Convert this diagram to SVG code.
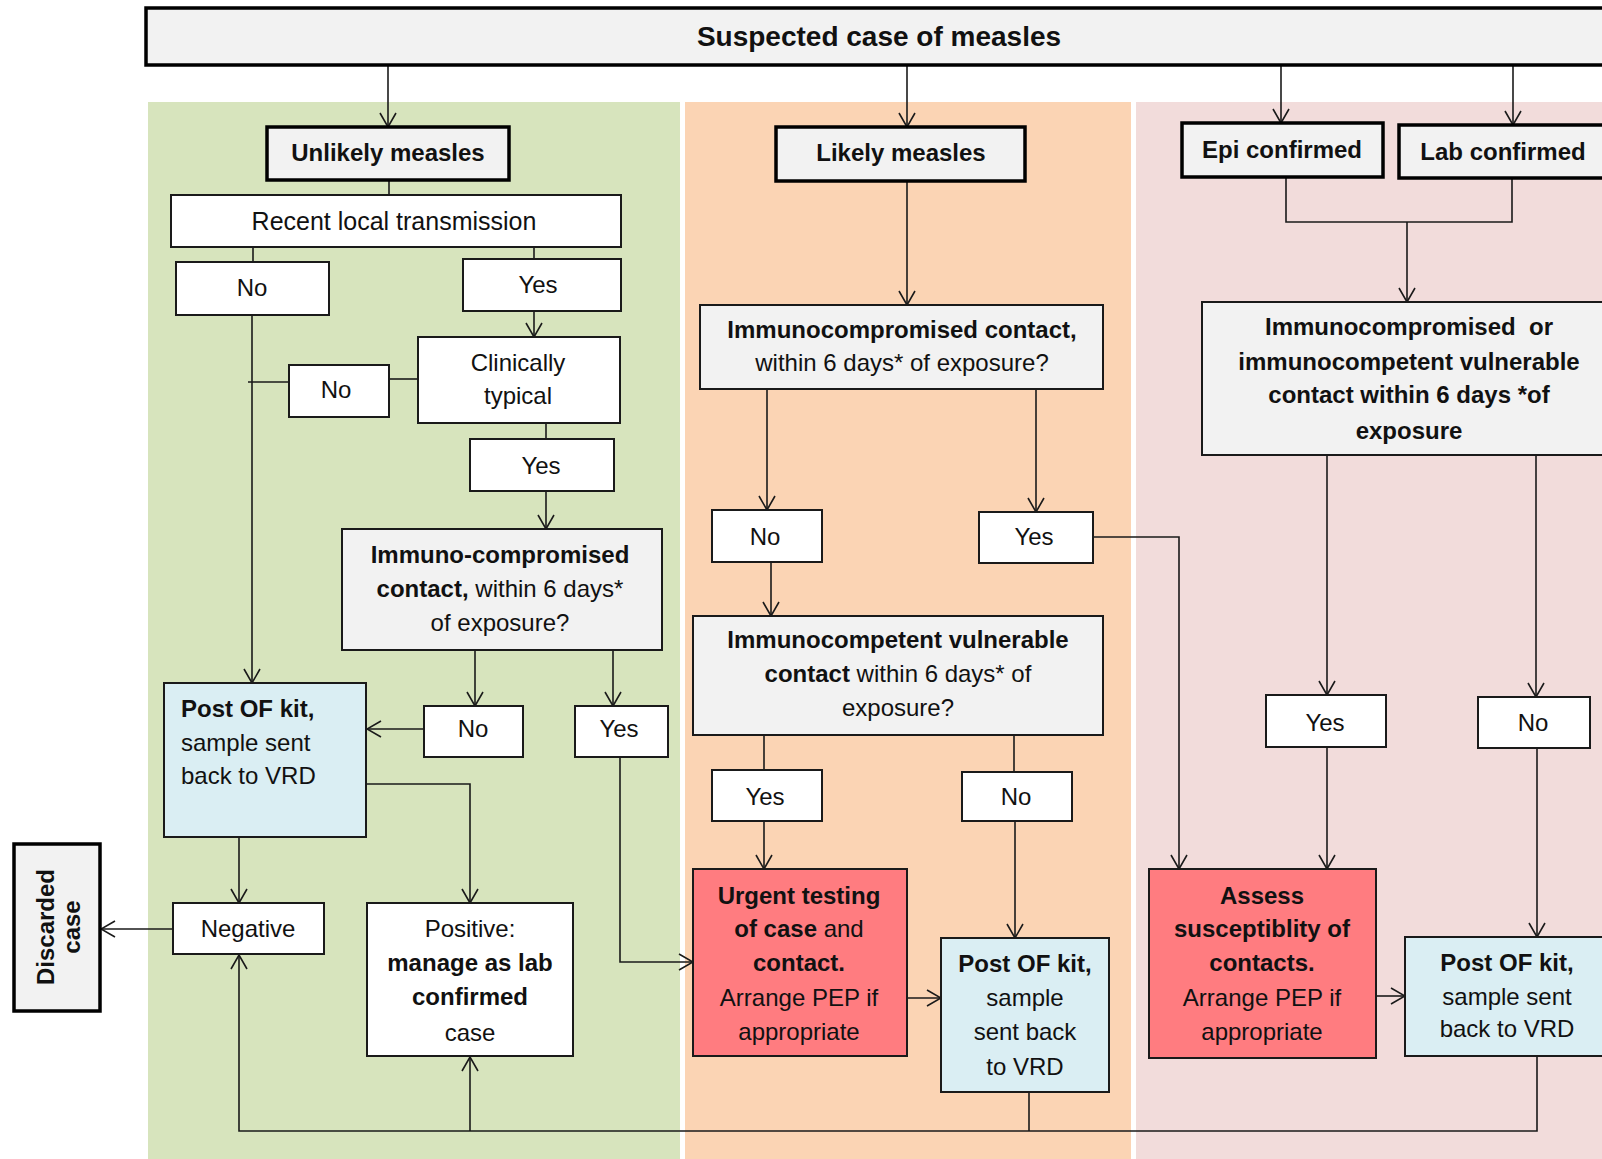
<svg xmlns="http://www.w3.org/2000/svg" width="1602" height="1159" viewBox="0 0 1602 1159">
<defs>
<style>
text{font-family:"Liberation Sans",Arial,sans-serif;fill:#111;text-anchor:middle;}
.t{font-size:24px;}
.b{font-weight:bold;}
.box{stroke:#1a1a1a;stroke-width:2;}
.thick{stroke:#000;stroke-width:3.5;fill:#f2f2f2;}
.white{fill:#fff;}
.grey{fill:#f2f2f2;}
.blue{fill:#daeef3;}
.red{fill:#ff7c80;}
.c{fill:none;stroke:#1a1a1a;stroke-width:1.6;}
.a{marker-end:url(#arr);}
</style>
<marker id="arr" viewBox="0 0 16 18" refX="15" refY="9" markerWidth="16" markerHeight="18" markerUnits="userSpaceOnUse" orient="auto">
<path d="M1,1 L15,9 L1,17" fill="none" stroke="#1a1a1a" stroke-width="1.6"/>
</marker>
</defs>
<rect width="1602" height="1159" fill="#fff"/>
<g id="panels">
<rect x="148" y="102" width="532" height="1057" fill="#d7e4bd"/>
<rect x="685" y="102" width="446" height="1057" fill="#fbd4b4"/>
<rect x="1136" y="102" width="470" height="1057" fill="#f2dcdb"/>
</g>
<g id="connectors">
<path class="c a" d="M388,65 V127"/>
<path class="c a" d="M907,65 V127"/>
<path class="c a" d="M1281,65 V123"/>
<path class="c a" d="M1513,65 V125"/>
<path class="c" d="M389,180 V195"/>
<path class="c" d="M253,247 V262"/>
<path class="c" d="M534,247 V259"/>
<path class="c a" d="M534,311 V337"/>
<path class="c" d="M418,379 H389"/>
<path class="c" d="M289,382 H248"/>
<path class="c a" d="M252,315 V683"/>
<path class="c" d="M546,423 V439"/>
<path class="c a" d="M546,491 V529"/>
<path class="c a" d="M475,650 V706"/>
<path class="c a" d="M613,650 V706"/>
<path class="c a" d="M424,729 H367"/>
<path class="c a" d="M366,784 H470 V903"/>
<path class="c a" d="M239,837 V903"/>
<path class="c a" d="M173,929 H101"/>
<path class="c a" d="M1537,1056 V1131 H239 V955"/>
<path class="c a" d="M470,1131 V1057"/>
<path class="c" d="M1029,1092 V1131"/>
<path class="c a" d="M620,757 V962 H693"/>
<path class="c a" d="M907,181 V305"/>
<path class="c a" d="M767,389 V510"/>
<path class="c a" d="M1036,389 V512"/>
<path class="c a" d="M771,562 V616"/>
<path class="c a" d="M1093,537 H1179 V869"/>
<path class="c" d="M764,735 V770"/>
<path class="c" d="M1014,735 V772"/>
<path class="c a" d="M764,821 V869"/>
<path class="c a" d="M1015,821 V938"/>
<path class="c a" d="M907,998 H941"/>
<path class="c" d="M1286,177 V222 H1512 V178"/>
<path class="c a" d="M1407,222 V302"/>
<path class="c a" d="M1327,455 V695"/>
<path class="c a" d="M1536,455 V697"/>
<path class="c a" d="M1327,747 V869"/>
<path class="c a" d="M1537,748 V937"/>
<path class="c a" d="M1376,996 H1405"/>
</g>
<g id="suspected">
<rect class="thick" x="146" y="8" width="1470" height="57"/>
<text class="b" x="879" y="46" font-size="28">Suspected case of measles</text>
</g>
<g id="unlikely">
<rect class="thick" x="267" y="127" width="242" height="53"/>
<text class="t b" x="388" y="161">Unlikely measles</text>
</g>
<g id="likely">
<rect class="thick" x="776" y="127" width="249" height="54"/>
<text class="t b" x="901" y="161">Likely measles</text>
</g>
<g id="epi">
<rect class="thick" x="1182" y="123" width="201" height="54"/>
<text class="t b" x="1282" y="158">Epi confirmed</text>
</g>
<g id="lab">
<rect class="thick" x="1399" y="125" width="215" height="53"/>
<text class="t b" x="1503" y="160">Lab confirmed</text>
</g>
<g id="recent">
<rect class="box white" x="171" y="195" width="450" height="52"/>
<text x="394" y="230" font-size="25">Recent local transmission</text>
</g>
<g id="no1">
<rect class="box white" x="176" y="262" width="153" height="53"/>
<text class="t" x="252" y="296">No</text>
</g>
<g id="yes1">
<rect class="box white" x="463" y="259" width="158" height="52"/>
<text class="t" x="538" y="293">Yes</text>
</g>
<g id="clinically">
<rect class="box white" x="418" y="337" width="202" height="86"/>
<text class="t" x="518" y="371">Clinically</text>
<text class="t" x="518" y="404">typical</text>
</g>
<g id="no2">
<rect class="box white" x="289" y="365" width="100" height="52"/>
<text class="t" x="336" y="398">No</text>
</g>
<g id="yes2">
<rect class="box white" x="470" y="439" width="144" height="52"/>
<text class="t" x="541" y="474">Yes</text>
</g>
<g id="immuno-green">
<rect class="box grey" x="342" y="529" width="320" height="121"/>
<text class="t b" x="500" y="563">Immuno-compromised</text>
<text class="t" x="500" y="597"><tspan class="b">contact,</tspan> within 6 days*</text>
<text class="t" x="500" y="631">of exposure?</text>
</g>
<g id="no3">
<rect class="box white" x="424" y="706" width="99" height="51"/>
<text class="t" x="473" y="737">No</text>
</g>
<g id="yes3">
<rect class="box white" x="575" y="706" width="93" height="51"/>
<text class="t" x="619" y="737">Yes</text>
</g>
<g id="post-green">
<rect class="box blue" x="164" y="683" width="202" height="154"/>
<text class="t b" x="181" y="717" style="text-anchor:start">Post OF kit,</text>
<text class="t" x="181" y="751" style="text-anchor:start">sample sent</text>
<text class="t" x="181" y="784" style="text-anchor:start">back to VRD</text>
</g>
<g id="negative">
<rect class="box white" x="173" y="903" width="151" height="51"/>
<text class="t" x="248" y="937">Negative</text>
</g>
<g id="positive">
<rect class="box white" x="367" y="903" width="206" height="153"/>
<text class="t" x="470" y="937">Positive:</text>
<text class="t b" x="470" y="971">manage as lab</text>
<text class="t b" x="470" y="1005">confirmed</text>
<text class="t" x="470" y="1041">case</text>
</g>
<g id="discarded">
<rect class="thick" x="14" y="844" width="86" height="167"/>
<text class="t b" transform="translate(54,927) rotate(-90)">Discarded</text>
<text class="t b" transform="translate(80,927) rotate(-90)">case</text>
</g>
<g id="immuno-orange">
<rect class="box grey" x="700" y="305" width="403" height="84"/>
<text class="t b" x="902" y="338">Immunocompromised contact,</text>
<text class="t" x="902" y="371">within 6 days* of exposure?</text>
</g>
<g id="no4">
<rect class="box white" x="712" y="510" width="110" height="52"/>
<text class="t" x="765" y="545">No</text>
</g>
<g id="yes4">
<rect class="box white" x="979" y="512" width="114" height="51"/>
<text class="t" x="1034" y="545">Yes</text>
</g>
<g id="immunocompetent">
<rect class="box grey" x="693" y="616" width="410" height="119"/>
<text class="t b" x="898" y="648">Immunocompetent vulnerable</text>
<text class="t" x="898" y="682"><tspan class="b">contact</tspan> within 6 days* of</text>
<text class="t" x="898" y="716">exposure?</text>
</g>
<g id="yes5">
<rect class="box white" x="712" y="770" width="110" height="51"/>
<text class="t" x="765" y="805">Yes</text>
</g>
<g id="no5">
<rect class="box white" x="962" y="772" width="110" height="49"/>
<text class="t" x="1016" y="805">No</text>
</g>
<g id="urgent">
<rect class="box red" x="693" y="869" width="214" height="187"/>
<text class="t b" x="799" y="904">Urgent testing</text>
<text class="t" x="799" y="937"><tspan class="b">of case</tspan> and</text>
<text class="t b" x="799" y="971">contact.</text>
<text class="t" x="799" y="1006">Arrange PEP if</text>
<text class="t" x="799" y="1040">appropriate</text>
</g>
<g id="post-orange">
<rect class="box blue" x="941" y="938" width="168" height="154"/>
<text class="t b" x="1025" y="972">Post OF kit,</text>
<text class="t" x="1025" y="1006">sample</text>
<text class="t" x="1025" y="1040">sent back</text>
<text class="t" x="1025" y="1075">to VRD</text>
</g>
<g id="immuno-pink">
<rect class="box grey" x="1202" y="302" width="412" height="153"/>
<text class="t b" x="1409" y="335" xml:space="preserve">Immunocompromised  or</text>
<text class="t b" x="1409" y="370">immunocompetent vulnerable</text>
<text class="t b" x="1409" y="403">contact within 6 days *of</text>
<text class="t b" x="1409" y="439">exposure</text>
</g>
<g id="yes6">
<rect class="box white" x="1266" y="695" width="120" height="52"/>
<text class="t" x="1325" y="731">Yes</text>
</g>
<g id="no6">
<rect class="box white" x="1478" y="697" width="112" height="51"/>
<text class="t" x="1533" y="731">No</text>
</g>
<g id="assess">
<rect class="box red" x="1149" y="869" width="227" height="189"/>
<text class="t b" x="1262" y="904">Assess</text>
<text class="t b" x="1262" y="937">susceptiblity of</text>
<text class="t b" x="1262" y="971">contacts.</text>
<text class="t" x="1262" y="1006">Arrange PEP if</text>
<text class="t" x="1262" y="1040">appropriate</text>
</g>
<g id="post-pink">
<rect class="box blue" x="1405" y="937" width="210" height="119"/>
<text class="t b" x="1507" y="971">Post OF kit,</text>
<text class="t" x="1507" y="1005">sample sent</text>
<text class="t" x="1507" y="1037">back to VRD</text>
</g>
</svg>
